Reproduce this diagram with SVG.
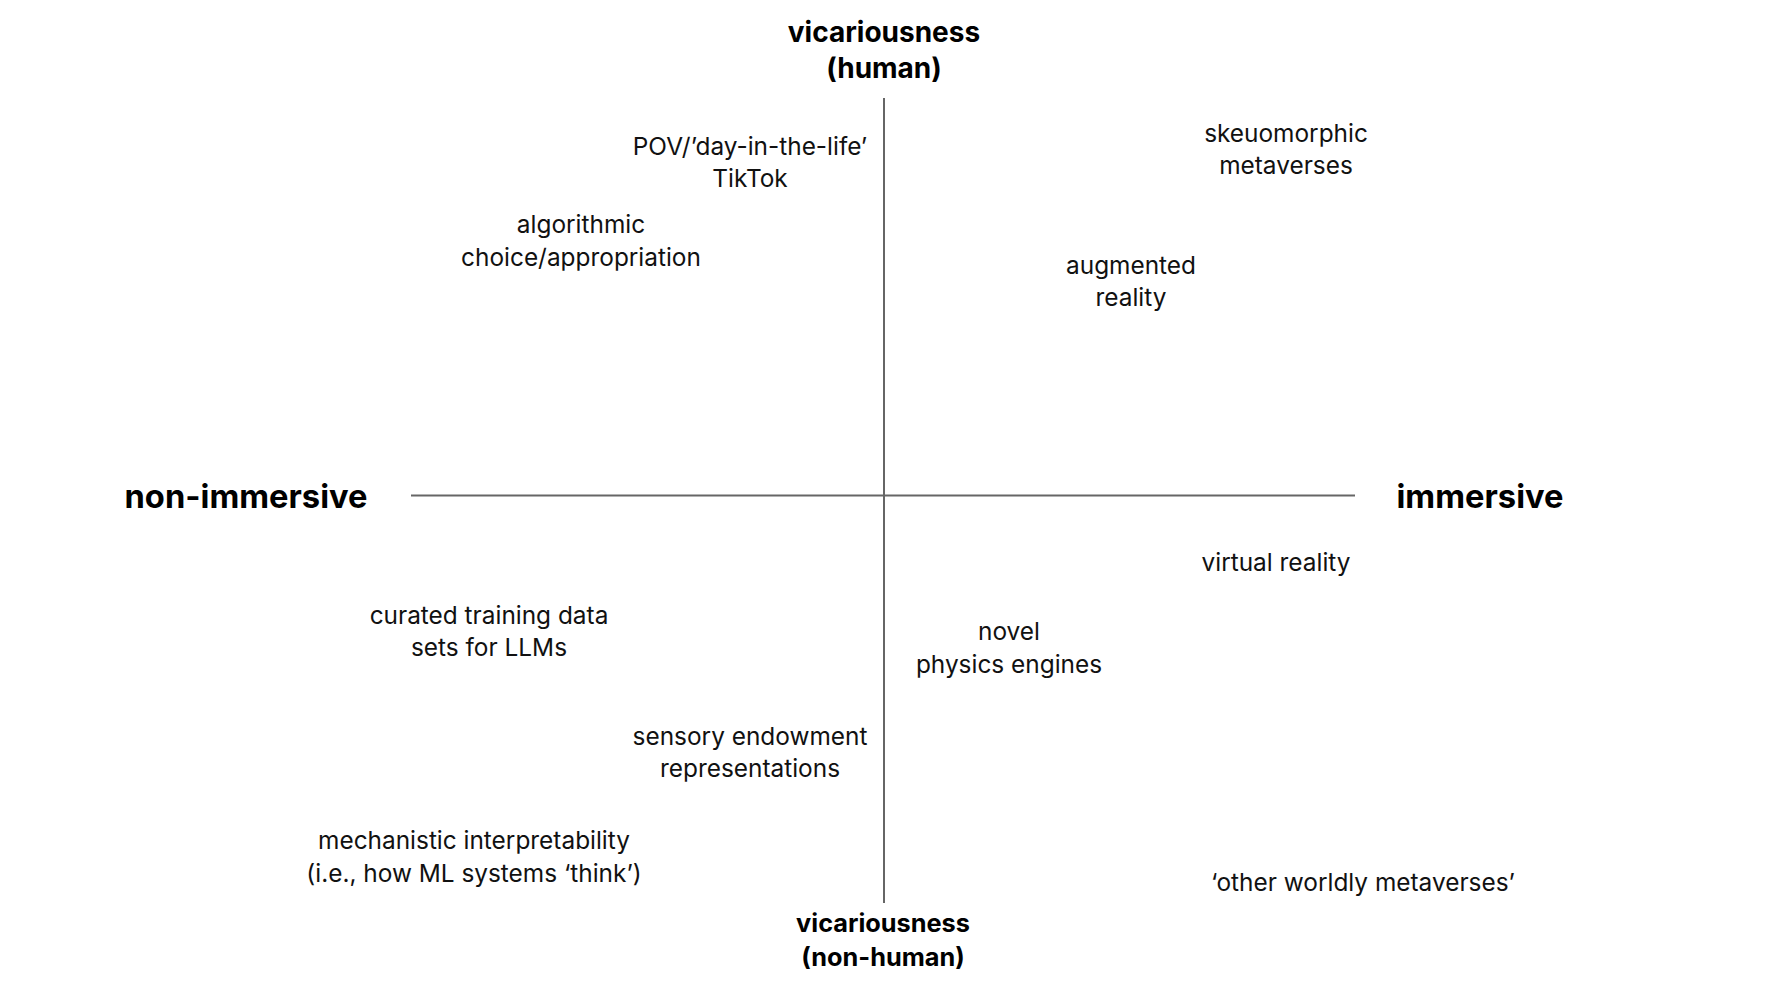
<svg xmlns="http://www.w3.org/2000/svg" width="1766" height="992" viewBox="0 0 1766 992">
  <style>
    .axis { stroke: #666666; stroke-width: 2; fill: none; }
    .lbl { font-family: Inter, "Noto Sans", "Liberation Sans", sans-serif; font-size: 24.4px; fill: #111111; text-anchor: middle; }
    .pole { font-family: Inter, "Noto Sans", "Liberation Sans", sans-serif; font-weight: 700; fill: #000000; text-anchor: middle; }
  </style>
  <rect width="1766" height="992" fill="#ffffff"/>

  <!-- axes -->
  <g id="connectors">
    <line class="axis" x1="884" y1="98" x2="884" y2="903"/>
    <line class="axis" x1="411" y1="495.5" x2="1355" y2="495.5"/>
  </g>

  <!-- axis poles -->
  <g id="pole-top">
    <text class="pole" font-size="28" x="884" y="42">vicariousness</text>
    <text class="pole" font-size="28" x="884" y="78">(human)</text>
  </g>
  <g id="pole-bottom">
    <text class="pole" font-size="25.3" x="883" y="932">vicariousness</text>
    <text class="pole" font-size="25.3" x="883" y="966">(non-human)</text>
  </g>
  <g id="pole-left">
    <text class="pole" font-size="32.7" x="246" y="508">non-immersive</text>
  </g>
  <g id="pole-right">
    <text class="pole" font-size="32.7" x="1480" y="508">immersive</text>
  </g>

  <!-- upper-left quadrant -->
  <g id="pov-tiktok">
    <text class="lbl" x="750" y="155">POV/’day-in-the-life’</text>
    <text class="lbl" x="750" y="187">TikTok</text>
  </g>
  <g id="algorithmic-choice">
    <text class="lbl" x="581" y="233">algorithmic</text>
    <text class="lbl" x="581" y="266">choice/appropriation</text>
  </g>

  <!-- upper-right quadrant -->
  <g id="skeuomorphic-metaverses">
    <text class="lbl" x="1286" y="142">skeuomorphic</text>
    <text class="lbl" x="1286" y="174">metaverses</text>
  </g>
  <g id="augmented-reality">
    <text class="lbl" x="1131" y="274">augmented</text>
    <text class="lbl" x="1131" y="306">reality</text>
  </g>

  <!-- lower-right quadrant -->
  <g id="virtual-reality">
    <text class="lbl" x="1276" y="571">virtual reality</text>
  </g>
  <g id="physics-engines">
    <text class="lbl" x="1009" y="640">novel</text>
    <text class="lbl" x="1009" y="673">physics engines</text>
  </g>
  <g id="other-worldly-metaverses">
    <text class="lbl" x="1363" y="891">‘other worldly metaverses’</text>
  </g>

  <!-- lower-left quadrant -->
  <g id="curated-training-data">
    <text class="lbl" x="489" y="624">curated training data</text>
    <text class="lbl" x="489" y="656">sets for LLMs</text>
  </g>
  <g id="sensory-endowment">
    <text class="lbl" x="750" y="745">sensory endowment</text>
    <text class="lbl" x="750" y="777">representations</text>
  </g>
  <g id="mechanistic-interpretability">
    <text class="lbl" x="474" y="849">mechanistic interpretability</text>
    <text class="lbl" x="474" y="882">(i.e., how ML systems ‘think’)</text>
  </g>
</svg>
